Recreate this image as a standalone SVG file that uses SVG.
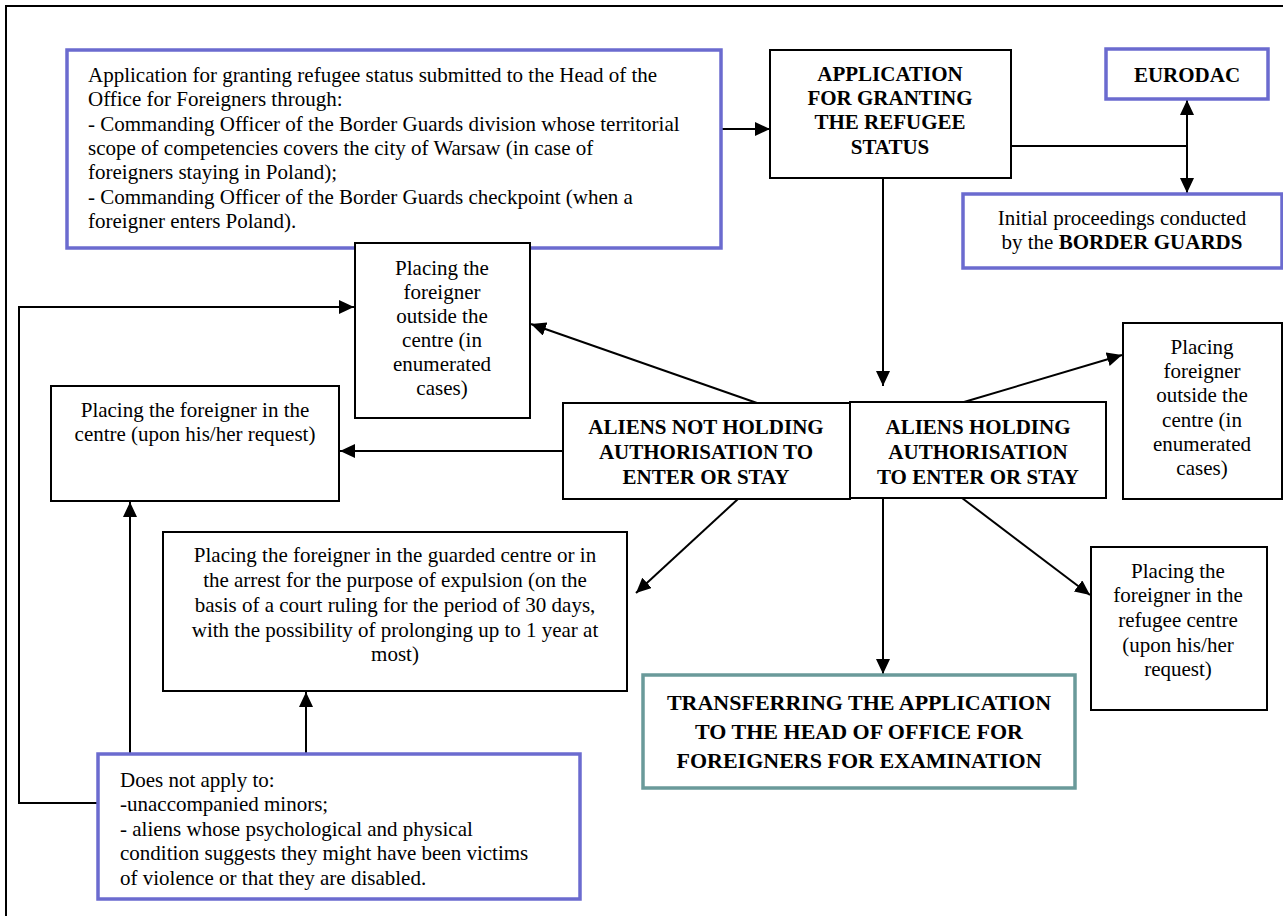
<svg xmlns="http://www.w3.org/2000/svg" width="1283" height="916" viewBox="0 0 1283 916" font-family="'Liberation Serif', 'Times New Roman', serif" font-size="21">
<style>
.bg{fill:#fff}
.frame{fill:none;stroke:#000;stroke-width:2}
.bx{fill:#fff;stroke:#000;stroke-width:2}
.bl{fill:#fff;stroke:#6B6BCF;stroke-width:3.5}
.tl{fill:#fff;stroke:#6A9A9A;stroke-width:3.5}
.c{text-anchor:middle}
.b{font-weight:bold}
.con{fill:none;stroke:#000;stroke-width:2}
</style>
<defs>
<marker id="ah" markerUnits="userSpaceOnUse" markerWidth="16" markerHeight="14" refX="15" refY="7" orient="auto">
<path d="M0,0 L15,7 L0,14 Z" fill="#000"/>
</marker>
<marker id="ahs" markerUnits="userSpaceOnUse" markerWidth="16" markerHeight="14" refX="1" refY="7" orient="auto">
<path d="M16,0 L1,7 L16,14 Z" fill="#000"/>
</marker>
</defs>
<rect class="bg" x="0" y="0" width="1283" height="916"/>
<path class="frame" d="M6,916 V6 H1283"/>

<g id="connectors">
<line class="con" x1="721" y1="129" x2="770" y2="129" marker-end="url(#ah)"/>
<line class="con" x1="1011" y1="146" x2="1187" y2="146"/>
<line class="con" x1="1187" y1="100" x2="1187" y2="193" marker-start="url(#ahs)" marker-end="url(#ah)"/>
<line class="con" x1="883" y1="178" x2="883" y2="386" marker-end="url(#ah)"/>
<line class="con" x1="757" y1="403" x2="531" y2="324" marker-end="url(#ah)"/>
<line class="con" x1="563" y1="451" x2="340" y2="451" marker-end="url(#ah)"/>
<line class="con" x1="738" y1="499" x2="636" y2="593" marker-end="url(#ah)"/>
<line class="con" x1="964" y1="402" x2="1122" y2="355" marker-end="url(#ah)"/>
<line class="con" x1="883" y1="498" x2="883" y2="674" marker-end="url(#ah)"/>
<line class="con" x1="962" y1="498" x2="1090" y2="595" marker-end="url(#ah)"/>
<polyline class="con" points="98,803 19,803 19,307 354,307" marker-end="url(#ah)"/>
<line class="con" x1="130" y1="754" x2="130" y2="502" marker-end="url(#ah)"/>
<line class="con" x1="306" y1="754" x2="306" y2="692" marker-end="url(#ah)"/>
</g>

<g id="n-submission">
<rect class="bl" x="67" y="50" width="654" height="198"/>
<text x="88" y="82">Application for granting refugee status submitted to the Head of the</text>
<text x="88" y="106">Office for Foreigners through:</text>
<text x="88" y="131">- Commanding Officer of the Border Guards division whose territorial</text>
<text x="88" y="155">scope of competencies  covers the city of Warsaw (in case of</text>
<text x="88" y="179">foreigners staying in Poland);</text>
<text x="88" y="204">- Commanding Officer of the Border Guards checkpoint (when a</text>
<text x="88" y="228">foreigner enters Poland).</text>
</g>

<g id="n-application">
<rect class="bx" x="770" y="50" width="241" height="128"/>
<text class="c b" x="890" y="81">APPLICATION</text>
<text class="c b" x="890" y="105">FOR GRANTING</text>
<text class="c b" x="890" y="129">THE REFUGEE</text>
<text class="c b" x="890" y="154">STATUS</text>
</g>

<g id="n-eurodac">
<rect class="bl" x="1106" y="49" width="162" height="50"/>
<text class="c b" x="1187" y="82">EURODAC</text>
</g>

<g id="n-initial">
<rect class="bl" x="963" y="194" width="319" height="74"/>
<text class="c" x="1122" y="225">Initial proceedings conducted</text>
<text class="c" x="1122" y="249">by the <tspan class="b">BORDER GUARDS</tspan></text>
</g>

<g id="n-outside-left">
<rect class="bx" x="355" y="243" width="175" height="175"/>
<text class="c" x="442" y="275">Placing the</text>
<text class="c" x="442" y="299">foreigner</text>
<text class="c" x="442" y="323">outside the</text>
<text class="c" x="442" y="347">centre (in</text>
<text class="c" x="442" y="371">enumerated</text>
<text class="c" x="442" y="395">cases)</text>
</g>

<g id="n-centre-request">
<rect class="bx" x="51" y="386" width="288" height="115"/>
<text class="c" x="195" y="417">Placing the foreigner in the</text>
<text class="c" x="195" y="441">centre (upon his/her request)</text>
</g>

<g id="n-aliens-not">
<rect class="bx" x="563" y="403" width="287" height="96"/>
<text class="c b" x="706" y="434">ALIENS NOT HOLDING</text>
<text class="c b" x="706" y="459">AUTHORISATION TO</text>
<text class="c b" x="706" y="484">ENTER OR STAY</text>
</g>

<g id="n-aliens-holding">
<rect class="bx" x="850" y="402" width="256" height="96"/>
<text class="c b" x="978" y="434">ALIENS HOLDING</text>
<text class="c b" x="978" y="459">AUTHORISATION</text>
<text class="c b" x="978" y="484">TO ENTER OR STAY</text>
</g>

<g id="n-outside-right">
<rect class="bx" x="1123" y="323" width="159" height="176"/>
<text class="c" x="1202" y="354">Placing</text>
<text class="c" x="1202" y="378">foreigner</text>
<text class="c" x="1202" y="402">outside the</text>
<text class="c" x="1202" y="427">centre (in</text>
<text class="c" x="1202" y="451">enumerated</text>
<text class="c" x="1202" y="475">cases)</text>
</g>

<g id="n-guarded">
<rect class="bx" x="163" y="532" width="464" height="159"/>
<text class="c" x="395" y="562">Placing the foreigner in the guarded centre or in</text>
<text class="c" x="395" y="587">the arrest for the purpose of expulsion (on the</text>
<text class="c" x="395" y="612">basis of a court ruling for the period of 30 days,</text>
<text class="c" x="395" y="637">with the possibility of prolonging up to 1 year at</text>
<text class="c" x="395" y="661">most)</text>
</g>

<g id="n-refugee-centre">
<rect class="bx" x="1091" y="547" width="176" height="163"/>
<text class="c" x="1178" y="578">Placing the</text>
<text class="c" x="1178" y="602">foreigner in the</text>
<text class="c" x="1178" y="627">refugee centre</text>
<text class="c" x="1178" y="652">(upon his/her</text>
<text class="c" x="1178" y="676">request)</text>
</g>

<g id="n-transfer" font-size="22">
<rect class="tl" x="643" y="675" width="432" height="113"/>
<text class="c b" x="859" y="710">TRANSFERRING THE APPLICATION</text>
<text class="c b" x="859" y="739">TO THE HEAD OF OFFICE FOR</text>
<text class="c b" x="859" y="768">FOREIGNERS FOR EXAMINATION</text>
</g>

<g id="n-exceptions">
<rect class="bl" x="98" y="754" width="482" height="145"/>
<text x="120" y="787">Does not apply to:</text>
<text x="120" y="811">-unaccompanied minors;</text>
<text x="120" y="836">- aliens whose psychological and physical</text>
<text x="120" y="860">condition suggests they might have been victims</text>
<text x="120" y="885">of violence or that they are disabled.</text>
</g>
</svg>
